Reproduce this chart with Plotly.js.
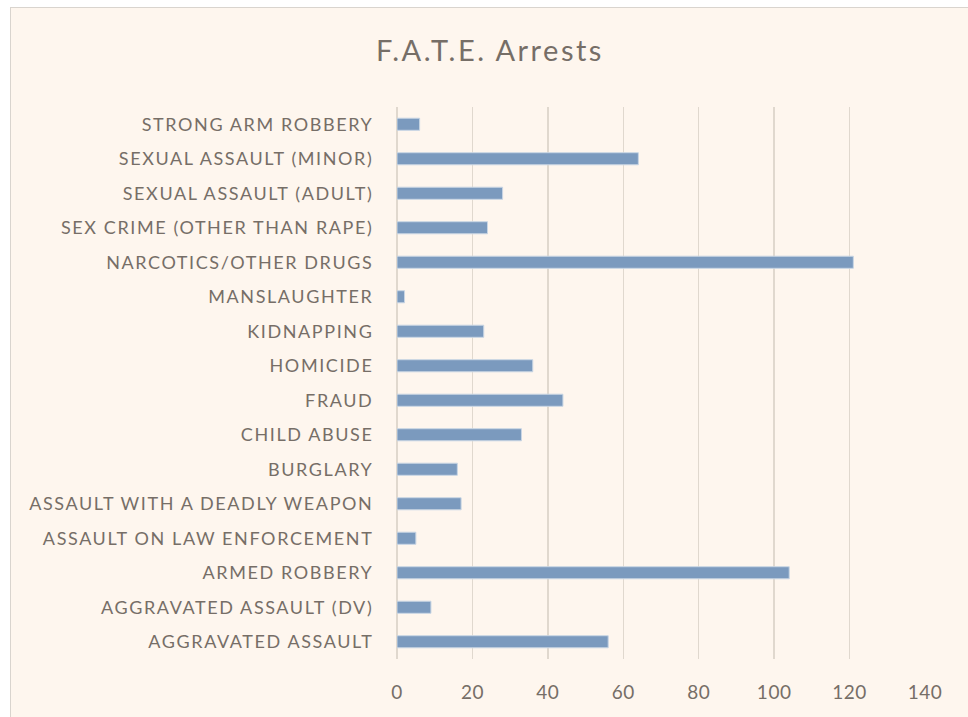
<!DOCTYPE html>
<html>
<head>
<meta charset="utf-8">
<script src="https://cdn.plot.ly/plotly-3.0.1.min.js"></script>
<style>
  html, body { margin: 0; padding: 0; background: #ffffff; overflow: hidden; }
  #frame { position: absolute; left: 10px; top: 7px; width: 968px; height: 720px;
           border: 1px solid #D9D4CE; background: #FEF6EE; box-sizing: border-box; }
  #chart { position: absolute; left: 0; top: 0; width: 958px; height: 710px; }
  #chart .ytick text { letter-spacing: 1.6px; }
  #chart .gtitle { letter-spacing: 2.5px; }
  #chart .xtick text { letter-spacing: 0.5px; }
</style>
</head>
<body>
<div id="frame"><div id="chart"></div></div>
<script>
const categories = [
  "AGGRAVATED ASSAULT",
  "AGGRAVATED ASSAULT (DV)",
  "ARMED ROBBERY",
  "ASSAULT ON LAW ENFORCEMENT",
  "ASSAULT WITH A DEADLY WEAPON",
  "BURGLARY",
  "CHILD ABUSE",
  "FRAUD",
  "HOMICIDE",
  "KIDNAPPING",
  "MANSLAUGHTER",
  "NARCOTICS/OTHER DRUGS",
  "SEX CRIME (OTHER THAN RAPE)",
  "SEXUAL ASSAULT (ADULT)",
  "SEXUAL ASSAULT (MINOR)",
  "STRONG ARM ROBBERY"
];
const arrests = [56, 9, 104, 5, 17, 16, 33, 44, 36, 23, 2, 121, 24, 28, 64, 6];
const xTicks = [0, 20, 40, 60, 80, 100, 120, 140];

const textColor = "#766E67";
const fontFamily = "Lato, 'Open Sans', sans-serif";

const trace = {
  type: "bar",
  orientation: "h",
  x: arrests,
  y: categories,
  marker: { color: "#7B9ABE", line: { color: "#C9D6E4", width: 1 } },
  hoverinfo: "x+y"
};

const layout = {
  width: 958,
  height: 710,
  paper_bgcolor: "#FEF6EE",
  plot_bgcolor: "#FEF6EE",
  margin: { l: 386, r: 44, t: 99, b: 59 },
  bargap: 0.65,
  showlegend: false,
  title: {
    text: "F.A.T.E. Arrests",
    font: { family: fontFamily, size: 29, color: textColor },
    x: 0.5, xanchor: "center",
    y: 1 - 43 / 710, yanchor: "middle"
  },
  xaxis: {
    range: [0, 140],
    tickvals: xTicks,
    ticktext: xTicks.map(String),
    showgrid: true,
    gridcolor: "#E0D8CE",
    gridwidth: 1.5,
    zeroline: true,
    zerolinecolor: "#E0D8CE",
    zerolinewidth: 1.5,
    showline: false,
    ticks: "outside",
    ticklen: 16,
    tickcolor: "rgba(0,0,0,0)",
    tickfont: { family: fontFamily, size: 19, color: textColor },
    fixedrange: true
  },
  yaxis: {
    type: "category",
    categoryorder: "array",
    categoryarray: categories,
    range: [-0.5, categories.length - 0.5],
    showgrid: false,
    zeroline: false,
    showline: false,
    ticks: "outside",
    ticklen: 19,
    tickcolor: "rgba(0,0,0,0)",
    tickfont: { family: fontFamily, size: 18, color: textColor },
    fixedrange: true
  }
};

Plotly.newPlot("chart", [trace], layout, { displayModeBar: false, staticPlot: true });
</script>
</body>
</html>
